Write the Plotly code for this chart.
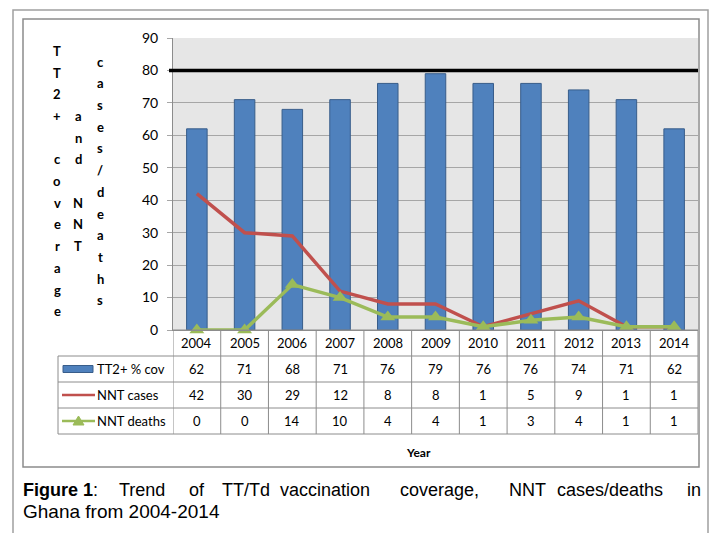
import plotly.graph_objects as go

# ---------------- data ----------------
years = ["2004", "2005", "2006", "2007", "2008", "2009", "2010", "2011", "2012", "2013", "2014"]
tt2_cov = [62, 71, 68, 71, 76, 79, 76, 76, 74, 71, 62]
nnt_cases = [42, 30, 29, 12, 8, 8, 1, 5, 9, 1, 1]
nnt_deaths = [0, 0, 14, 10, 4, 4, 1, 3, 4, 1, 1]
target = 80
series_names = ["TT2+ % cov", "NNT cases", "NNT deaths"]
y_ticks = [0, 10, 20, 30, 40, 50, 60, 70, 80, 90]
y_title_cols = ["TT2+ coverage", "and NNT", "cases/deaths"]
x_title = "Year"
caption_l1_words = ["<b>Figure 1</b>:", "Trend", "of", "TT/Td", "vaccination", "coverage,", "NNT", "cases/deaths", "in"]
caption_l2 = "Ghana from 2004-2014"

# ---------------- geometry helpers (page pixels) ----------------
OFF = 8                      # default body margin of the page
W, H = 717 - OFF, 533 - OFF
L, R, T, B = 173, 698, 38, 330
def fx(px):
    return (px - L) / (R - L)
def fy(py):
    return (B - py) / (B - T)

BLUE = "#4F81BD"
RED = "#C0504D"
GREEN = "#9BBB59"
GRID = "#A6A6A6"
FONT = "Lato, Carlito, Calibri, Open Sans, sans-serif"

fig = go.Figure()
fig.add_trace(go.Bar(x=years, y=tt2_cov, name=series_names[0], width=0.43,
                     marker=dict(color=BLUE, line=dict(color="#385D8A", width=1))))
fig.add_trace(go.Scatter(x=years, y=nnt_cases, name=series_names[1], mode="lines",
                         line=dict(color=RED, width=3.5), cliponaxis=False))
fig.add_trace(go.Scatter(x=years, y=nnt_deaths, name=series_names[2], mode="lines+markers",
                         line=dict(color=GREEN, width=3.5),
                         marker=dict(symbol="triangle-up", size=13, color=GREEN),
                         cliponaxis=False))

shapes = []
annotations = []

def note(x, y, text, size=13, xanchor="center", family=FONT, xref="paper"):
    annotations.append(dict(x=x, y=y, xref=xref, yref="paper", text=text, showarrow=False,
                            xanchor=xanchor, yanchor="middle",
                            font=dict(family=family, size=size, color="black")))

# target line
shapes.append(dict(type="line", xref="paper", yref="y", x0=fx(169), x1=1, y0=target, y1=target,
                   line=dict(color="black", width=3.5)))

# outer & inner frames
shapes.append(dict(type="rect", xref="paper", yref="paper", x0=fx(13), x1=fx(708), y0=fy(10), y1=fy(545),
                   line=dict(color="#A0A0A0", width=1.5), layer="below"))
shapes.append(dict(type="rect", xref="paper", yref="paper", x0=fx(23), x1=fx(699), y0=fy(19), y1=fy(467),
                   line=dict(color="#8C8C8C", width=1.5), layer="below"))

# data table
rows_px = [330, 356, 382, 408, 434]
TBL = "#8C8C8C"
n = len(years)
for i in range(n + 1):
    shapes.append(dict(type="line", xref="x", yref="paper", x0=i - 0.5, x1=i - 0.5,
                       y0=fy(rows_px[0]), y1=fy(rows_px[-1]), line=dict(color=TBL, width=1)))
for k, py in enumerate(rows_px):
    x0 = fx(58) if k >= 1 else 0
    shapes.append(dict(type="line", xref="paper", yref="paper", x0=x0, x1=1, y0=fy(py), y1=fy(py),
                       line=dict(color=TBL, width=1)))
shapes.append(dict(type="line", xref="paper", yref="paper", x0=fx(58), x1=fx(58),
                   y0=fy(rows_px[1]), y1=fy(rows_px[-1]), line=dict(color=TBL, width=1)))

row_vals = [years, tt2_cov, nnt_cases, nnt_deaths]
for r, vals in enumerate(row_vals):
    yc = fy((rows_px[r] + rows_px[r + 1]) / 2)
    for i, v in enumerate(vals):
        note(i, yc, str(v), xref="x")

# legend keys in table
for r, name in enumerate(series_names):
    yc_px = (rows_px[r + 1] + rows_px[r + 2]) / 2
    yc = fy(yc_px)
    note(fx(95), yc, name, xanchor="left")
    if r == 0:
        shapes.append(dict(type="rect", xref="paper", yref="paper", x0=fx(63), x1=fx(93),
                           y0=fy(yc_px + 3.5), y1=fy(yc_px - 3.5),
                           fillcolor=BLUE, line=dict(color="#385D8A", width=1)))
    else:
        col = RED if r == 1 else GREEN
        shapes.append(dict(type="line", xref="paper", yref="paper", x0=fx(62), x1=fx(95),
                           y0=yc, y1=yc, line=dict(color=col, width=2.5)))
        if r == 2:
            shapes.append(dict(type="path", xref="paper", yref="paper",
                               path="M {} {} L {} {} L {} {} Z".format(fx(73), fy(yc_px + 4), fx(84), fy(yc_px + 4),
                                                                          fx(78.5), fy(yc_px - 5)),
                               fillcolor=col, line=dict(color=col, width=1)))

# stacked y-axis title
col_x = [57, 78, 100]
for cx, s in zip(col_x, y_title_cols):
    m = len(s)
    for k, ch in enumerate(s):
        if ch == " ":
            continue
        py = 181 + (k - (m - 1) / 2) * 21.7
        note(fx(cx), fy(py), "<b>%s</b>" % ch)

# x title
note(fx(418), fy(452), "<b>%s</b>" % x_title, size=12)

# caption (justified first line)
CAP = "Liberation Sans, Arial, sans-serif"
word_x = [21, 117, 187, 220, 278, 398, 507, 555, 685]
for wx, w in zip(word_x, caption_l1_words):
    note(fx(wx), fy(490), w, size=18, xanchor="left", family=CAP)
note(fx(21), fy(511), caption_l2, size=19, xanchor="left", family=CAP)

fig.update_layout(
    width=W, height=H,
    margin=dict(l=L - OFF, r=W - (R - OFF), t=T - OFF, b=H - (B - OFF), pad=0),
    paper_bgcolor="white", plot_bgcolor="#E6E6E6",
    showlegend=False, bargap=0.5,
    shapes=shapes, annotations=annotations,
    xaxis=dict(type="category", showticklabels=False, ticks="", showgrid=False,
               showline=True, linecolor=TBL, linewidth=1, range=[-0.5, n - 0.5], zeroline=False),
    yaxis=dict(range=[0, 90], tickvals=y_ticks, ticks="outside", ticklen=5, tickcolor=GRID,
               showgrid=True, gridcolor=GRID, gridwidth=1, showline=True, linecolor=TBL,
               zeroline=False, tickfont=dict(family=FONT, size=14, color="black"),
               ticklabelstandoff=6),
)

fig.write_html("out.html")
